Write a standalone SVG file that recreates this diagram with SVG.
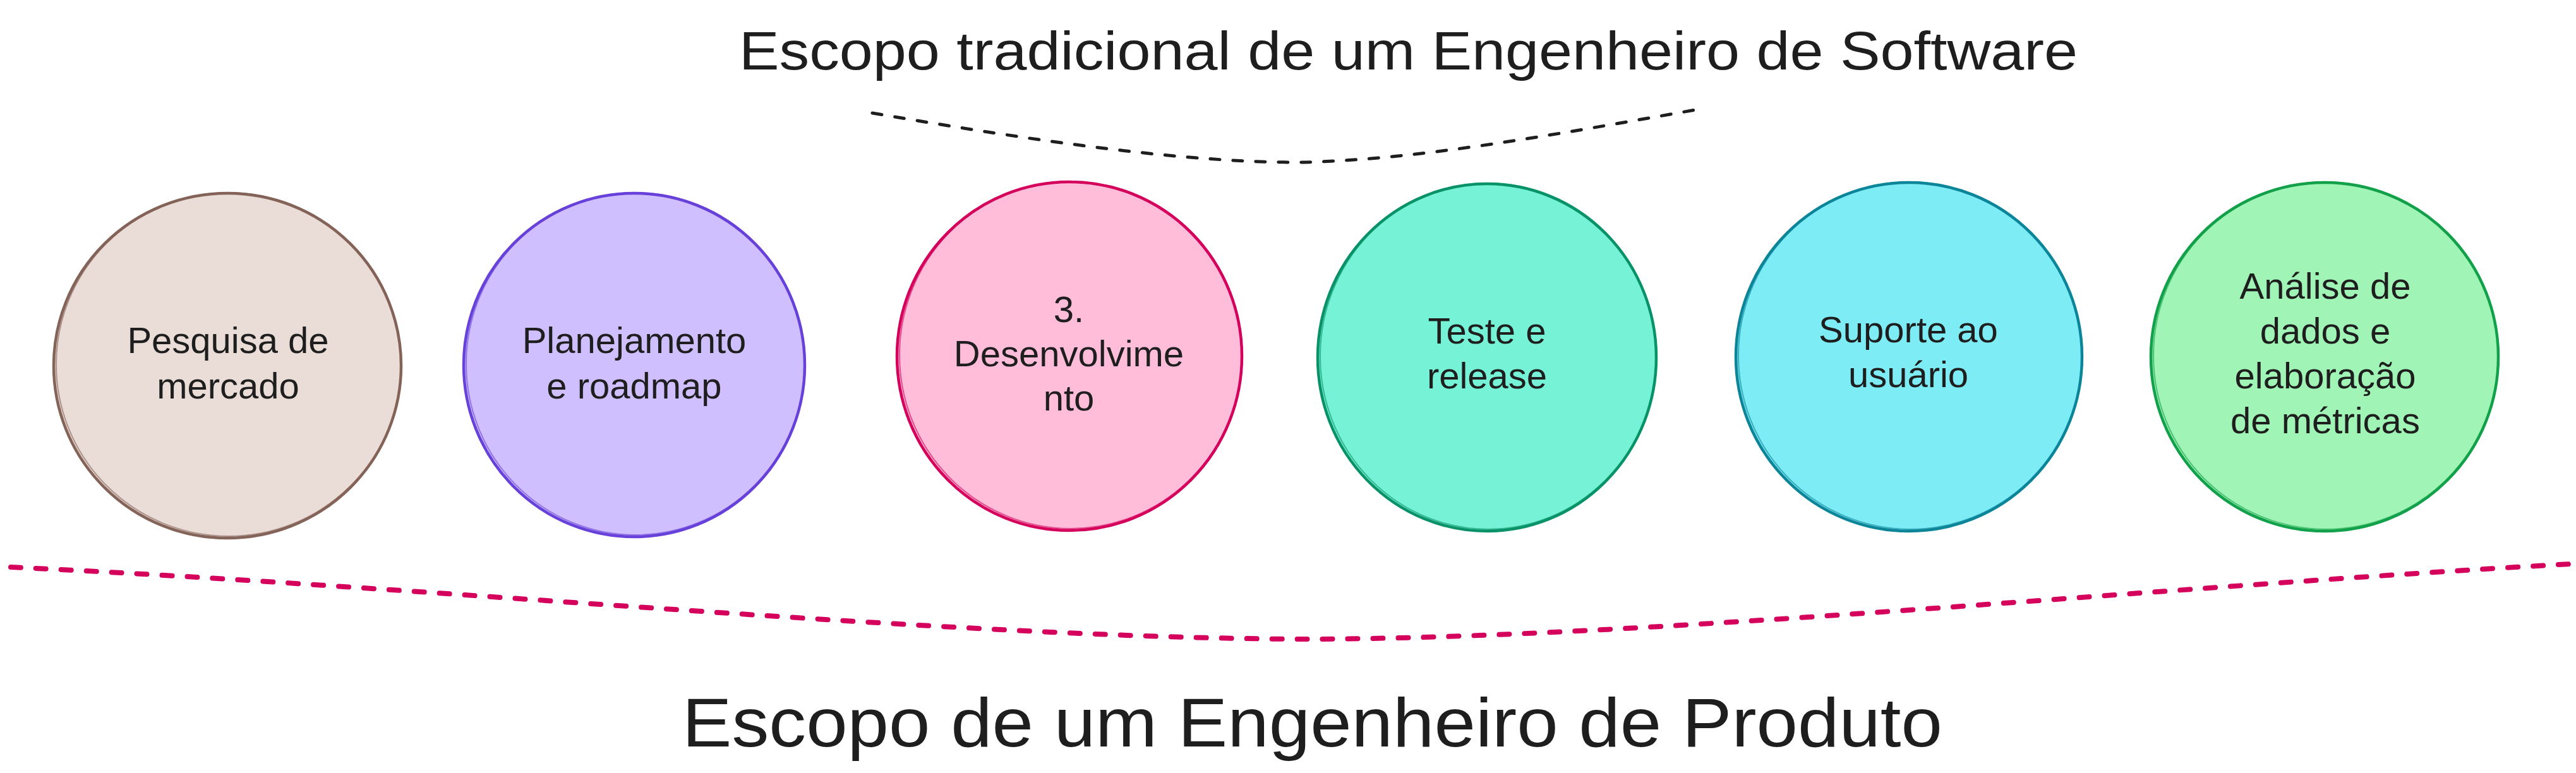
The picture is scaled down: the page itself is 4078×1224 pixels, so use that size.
<svg xmlns="http://www.w3.org/2000/svg" width="4078" height="1224" viewBox="0 0 4078 1224">
<style>
.bg{fill:#ffffff}
.node{stroke-width:4.5}
.ghost{fill:none;stroke-width:2;opacity:0.6}
.lbl{font-family:"Liberation Sans",Arial,sans-serif;font-size:58px;fill:#1e1e1e;text-anchor:middle}
.title{font-family:"Liberation Sans",Arial,sans-serif;fill:#1e1e1e}
.dash-top{fill:none;stroke:#1e1e1e;stroke-width:5;stroke-linecap:round;stroke-dasharray:15 21}
.dash-bot{fill:none;stroke:#d4005c;stroke-width:8;stroke-linecap:round;stroke-dasharray:16 24}
</style>
<rect class="bg" x="0" y="0" width="4078" height="1224"/>

<text id="title-top" class="title" x="1170" y="110" font-size="86" textLength="2119" lengthAdjust="spacingAndGlyphs">Escopo tradicional de um Engenheiro de Software</text>

<g id="connectors">
  <path class="dash-top" d="M1381,179 C1650,225 1880,258 2064,257 C2250,252 2450,215 2695,172"/>
  <path class="dash-bot" d="M17,898 C700,930 1500,1010 2060,1012 C2600,1012 3400,930 4070,893"/>
</g>

<g id="node-pesquisa">
  <ellipse class="node" cx="360" cy="579" rx="275" ry="273" fill="#eaddd7" stroke="#846358"/>
  <ellipse class="ghost" cx="362" cy="577" rx="273" ry="272" stroke="#846358"/>
  <text class="lbl" x="361" y="559">Pesquisa de</text>
  <text class="lbl" x="361" y="631">mercado</text>
</g>

<g id="node-planejamento">
  <ellipse class="node" cx="1004" cy="578" rx="270" ry="272" fill="#d0bfff" stroke="#6741d9"/>
  <ellipse class="ghost" cx="1006" cy="576" rx="268" ry="271" stroke="#6741d9"/>
  <text class="lbl" x="1004" y="559">Planejamento</text>
  <text class="lbl" x="1004" y="631">e roadmap</text>
</g>

<g id="node-desenvolvimento">
  <ellipse class="node" cx="1693" cy="564" rx="273" ry="276" fill="#ffbdd9" stroke="#d4005c"/>
  <ellipse class="ghost" cx="1695" cy="562" rx="271" ry="275" stroke="#d4005c"/>
  <text class="lbl" x="1692" y="510">3.</text>
  <text class="lbl" x="1692" y="580">Desenvolvime</text>
  <text class="lbl" x="1692" y="650">nto</text>
</g>

<g id="node-teste">
  <ellipse class="node" cx="2354" cy="566" rx="268" ry="275" fill="#76f3d6" stroke="#099268"/>
  <ellipse class="ghost" cx="2356" cy="564" rx="266" ry="274" stroke="#099268"/>
  <text class="lbl" x="2354" y="544">Teste e</text>
  <text class="lbl" x="2354" y="615">release</text>
</g>

<g id="node-suporte">
  <ellipse class="node" cx="3022" cy="565" rx="274" ry="276" fill="#7eecf4" stroke="#0c8599"/>
  <ellipse class="ghost" cx="3024" cy="563" rx="272" ry="275" stroke="#0c8599"/>
  <text class="lbl" x="3021" y="542">Suporte ao</text>
  <text class="lbl" x="3021" y="613">usuário</text>
</g>

<g id="node-analise">
  <ellipse class="node" cx="3680" cy="565" rx="275" ry="276" fill="#a0f4b6" stroke="#12a14a"/>
  <ellipse class="ghost" cx="3682" cy="563" rx="273" ry="275" stroke="#12a14a"/>
  <text class="lbl" x="3681" y="473">Análise de</text>
  <text class="lbl" x="3681" y="544">dados e</text>
  <text class="lbl" x="3681" y="615">elaboração</text>
  <text class="lbl" x="3681" y="686">de métricas</text>
</g>

<text id="title-bottom" class="title" x="1080" y="1182" font-size="110" textLength="1995" lengthAdjust="spacingAndGlyphs">Escopo de um Engenheiro de Produto</text>
</svg>
